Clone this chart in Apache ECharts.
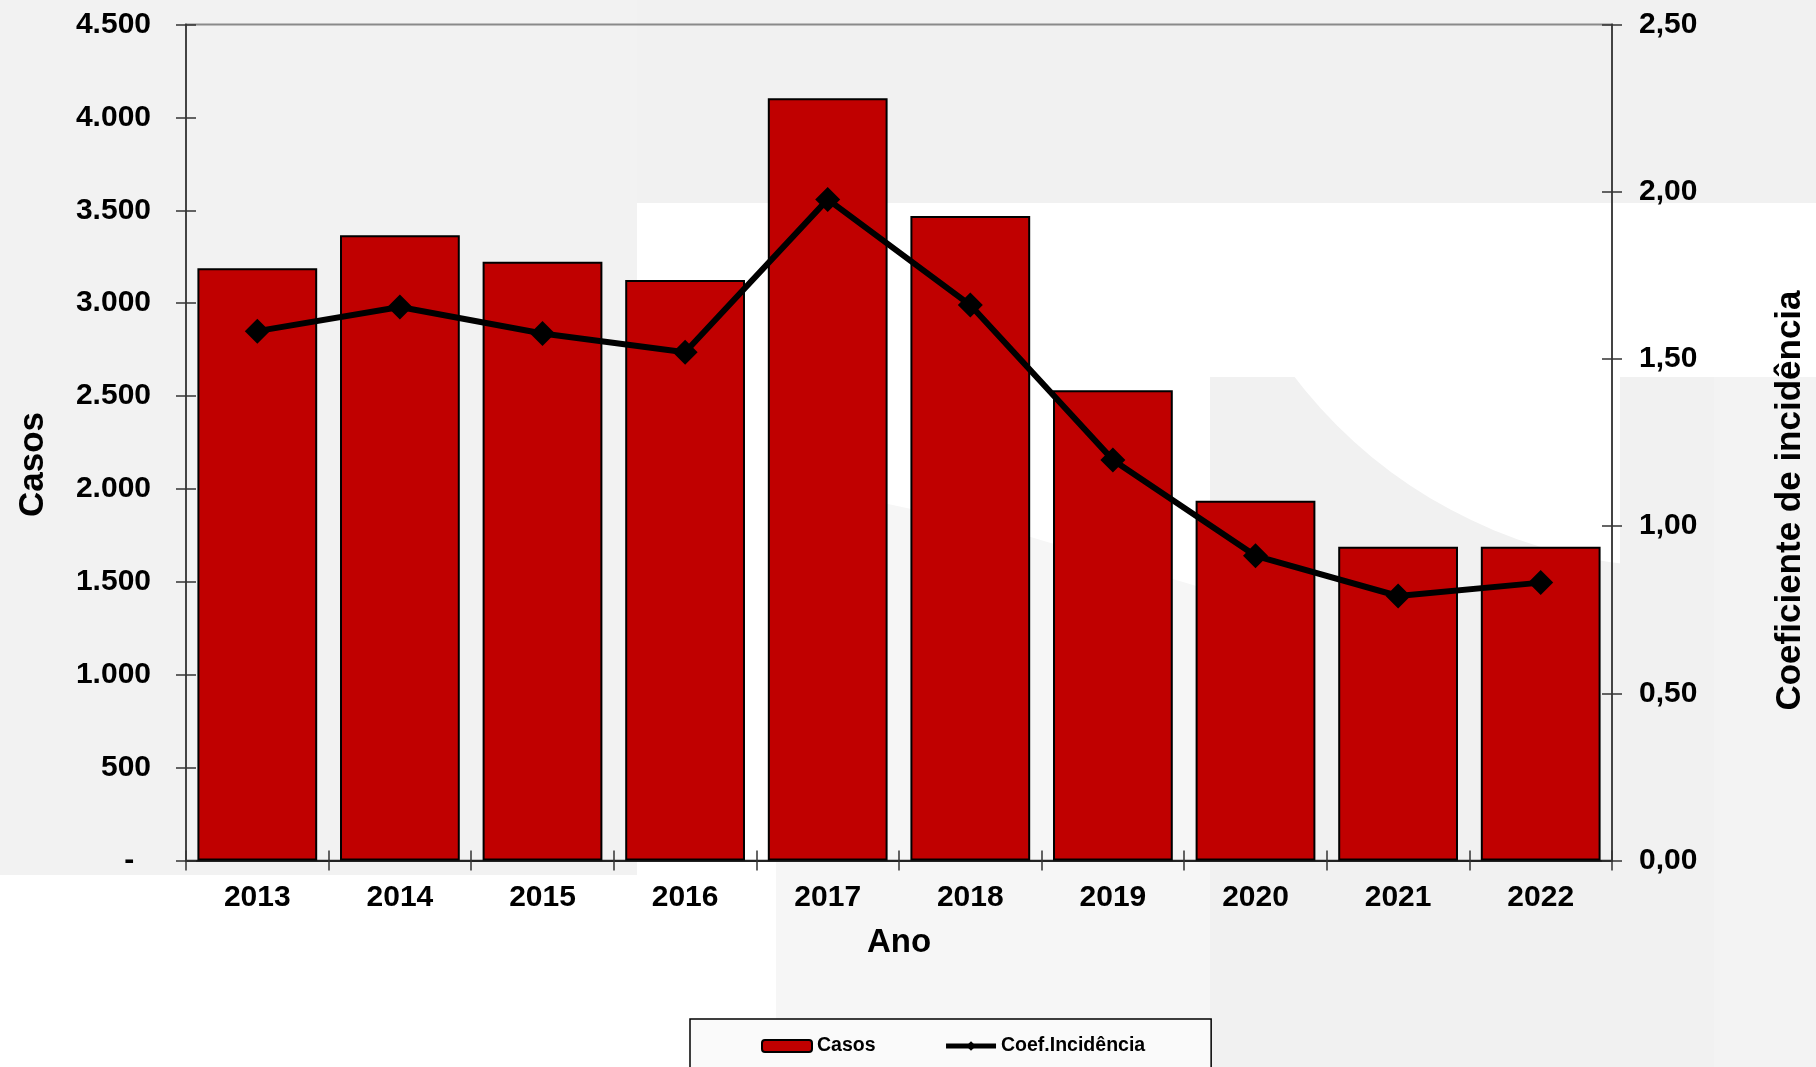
<!DOCTYPE html>
<html>
<head>
<meta charset="utf-8">
<script src="https://cdn.jsdelivr.net/npm/echarts@6/dist/echarts.min.js"></script>
<style>
html,body{margin:0;padding:0;background:#fff;}
#c{width:1816px;height:1067px;}
</style>
</head>
<body>
<div id="c"></div>
<script>
const categories = ['2013','2014','2015','2016','2017','2018','2019','2020','2021','2022'];
const casos = [3188, 3365, 3223, 3125, 4103, 3469, 2531, 1937, 1689, 1689];
const coef = [1.583, 1.655, 1.576, 1.52, 1.977, 1.661, 1.198, 0.911, 0.791, 0.831];
const leftAxis = {min: 0, max: 4500, interval: 500};
const rightAxis = {min: 0, max: 2.5, interval: 0.5};

const FONT = 'Liberation Sans, Arial, sans-serif';
function fmtLeft(v){
  if (v === 0) return '-  ';
  return String(v).replace(/\B(?=(\d{3})+(?!\d))/g, '.');
}
function fmtRight(v){ return v.toFixed(2).replace('.', ','); }

const chart = echarts.init(document.getElementById('c'), null, {renderer:'canvas'});
const bg = [
  {type:'rect', shape:{x:0,y:0,width:637,height:875}, style:{fill:'#f2f2f2'}},
  {type:'rect', shape:{x:1210,y:377,width:606,height:690}, style:{fill:'#f1f1f1'}},
  {type:'polygon', shape:{points:[[776,480],[1000,528],[1210,590],[1210,1067],[776,1067]]}, style:{fill:'#f6f6f6'}},
  {type:'circle', shape:{cx:1679,cy:83,r:484}, style:{fill:'#ffffff'}},
  {type:'rect', shape:{x:637,y:0,width:1179,height:203}, style:{fill:'#f1f1f1'}},
  {type:'rect', shape:{x:1620,y:377,width:196,height:690}, style:{fill:'#f1f1f1'}},
  {type:'rect', shape:{x:1714,y:377,width:102,height:690}, style:{fill:'#f3f3f3'}}
].map(e => Object.assign(e, {silent:true, z:-100}));

const tickStyle = {color:'#333', width:1.5};
const option = {
  backgroundColor: '#ffffff',
  animation: false,
  graphic: bg,
  grid: {left:186, right:197, top:24.5, bottom:206.5, show:true, borderColor:'#8a8a8a', borderWidth:2, backgroundColor:'transparent'},
  legend: {
    left: 690, top: 1019,
    padding: [17, 66, 30, 71],
    backgroundColor: '#fafafa', borderColor: '#000', borderWidth: 1.5,
    itemGap: 68, itemWidth: 50, itemHeight: 12,
    lineStyle: {width: 5},
    textStyle: {fontFamily: FONT, fontSize: 19.5, fontWeight: 'bold', color: '#000'},
    data: ['Casos', 'Coef.Incidência']
  },
  xAxis: [{
    type: 'category', data: categories, position: 'bottom',
    name: 'Ano', nameLocation: 'middle', nameGap: 66,
    nameTextStyle: {fontFamily: FONT, fontSize: 33, fontWeight: 'bold', color: '#000'},
    axisLine: {show: true, lineStyle: {color: '#222', width: 2}},
    axisTick: {show: true, interval: 0, length: 10, lineStyle: tickStyle},
    axisLabel: {interval: 0, margin: 22, fontFamily: FONT, fontSize: 30, fontWeight: 'bold', color: '#000'}
  }, {
    type: 'category', data: categories, position: 'bottom',
    axisLine: {show: false},
    axisTick: {show: true, inside: true, interval: 0, length: 10, lineStyle: tickStyle},
    axisLabel: {show: false}
  }],
  yAxis: [{
    type: 'value', position: 'left', min: leftAxis.min, max: leftAxis.max, interval: leftAxis.interval,
    name: 'Casos', nameLocation: 'middle', nameGap: 135, nameRotate: 90,
    nameTextStyle: {fontFamily: FONT, fontSize: 35, fontWeight: 'bold', color: '#000', padding: [0, 44, 0, 0]},
    splitLine: {show: false},
    axisLine: {show: true, lineStyle: {color: '#444', width: 2}},
    axisTick: {show: true, length: 10, lineStyle: tickStyle},
    axisLabel: {margin: 35, formatter: fmtLeft, fontFamily: FONT, fontSize: 30, fontWeight: 'bold', color: '#000'}
  }, {
    type: 'value', position: 'right', min: rightAxis.min, max: rightAxis.max, interval: rightAxis.interval,
    name: 'Coeficiente de incidência', nameLocation: 'middle', nameGap: 161, nameRotate: 90,
    nameTextStyle: {fontFamily: FONT, fontSize: 35, fontWeight: 'bold', color: '#000', padding: [0, 116, 0, 0]},
    splitLine: {show: false},
    axisLine: {show: true, lineStyle: {color: '#444', width: 2}},
    axisTick: {show: true, length: 10, lineStyle: tickStyle},
    axisLabel: {margin: 27, formatter: fmtRight, fontFamily: FONT, fontSize: 30, fontWeight: 'bold', color: '#000'}
  }, {
    type: 'value', position: 'left', min: leftAxis.min, max: leftAxis.max, interval: leftAxis.interval,
    splitLine: {show: false}, axisLine: {show: false},
    axisTick: {show: true, inside: true, length: 10, lineStyle: tickStyle},
    axisLabel: {show: false}
  }, {
    type: 'value', position: 'right', min: rightAxis.min, max: rightAxis.max, interval: rightAxis.interval,
    splitLine: {show: false}, axisLine: {show: false},
    axisTick: {show: true, inside: true, length: 10, lineStyle: tickStyle},
    axisLabel: {show: false}
  }],
  series: [{
    name: 'Casos', type: 'bar', xAxisIndex: 0, yAxisIndex: 0,
    data: casos, barWidth: '84%',
    itemStyle: {color: '#c00000', borderColor: '#000', borderWidth: 2}
  }, {
    name: 'Coef.Incidência', type: 'line', xAxisIndex: 0, yAxisIndex: 1,
    data: coef, symbol: 'diamond', symbolSize: 25,
    lineStyle: {color: '#000', width: 6},
    itemStyle: {color: '#000'}
  }]
};
chart.setOption(option);
</script>
</body>
</html>
